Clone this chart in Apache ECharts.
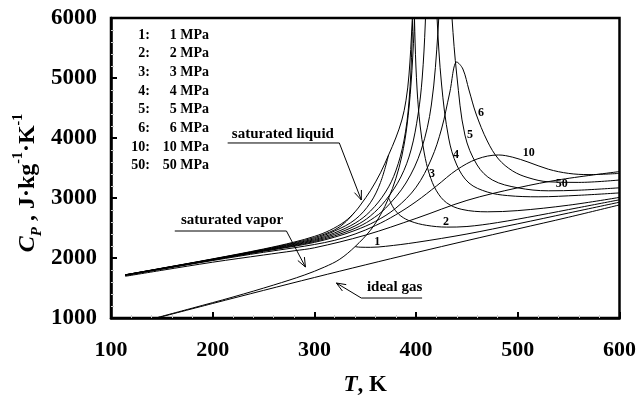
<!DOCTYPE html>
<html>
<head>
<meta charset="utf-8">
<script src="https://cdn.jsdelivr.net/npm/echarts@6/dist/echarts.min.js"></script>
<style>
  html, body { margin: 0; padding: 0; background: #fff; }
  #chart { width: 639px; height: 402px; }
</style>
</head>
<body>
<div id="chart"></div>
<script>
// Isobaric heat capacity of isobutane: temperatures (K) and Cp (J/(kg·K))
const satLiqT  = [114, 150, 200, 250, 280, 300, 315, 330, 340, 346, 355, 365, 373, 380, 386, 390, 393, 396, 398];
const satLiqCp = [1720, 1830, 1985, 2150, 2265, 2360, 2460, 2610, 2770, 2900, 3120, 3420, 3720, 4000, 4300, 4620, 5050, 5900, 6800];

const satVapT  = [145, 180, 220, 260, 290, 310, 325, 340, 355, 365, 373, 380, 386, 391, 395, 398, 400];
const satVapCp = [1005, 1165, 1350, 1550, 1715, 1850, 1980, 2190, 2460, 2720, 3000, 3320, 3700, 4200, 4900, 5800, 6800];

const idealT  = [145, 200, 250, 300, 350, 400, 450, 500, 550, 600];
const idealCp = [1000, 1242, 1460, 1675, 1885, 2090, 2290, 2485, 2680, 2885];

// 1 MPa: liquid up to saturation, then vapour
const p1LiqT  = [114, 150, 200, 250, 280, 300, 320, 330, 340];
const p1LiqCp = [1720, 1829, 1982, 2143, 2252, 2340, 2470, 2590, 2770];
const p1VapT  = [340, 345, 355, 370, 400, 450, 500, 550, 600];
const p1VapCp = [2190, 2180, 2178, 2195, 2260, 2400, 2570, 2750, 2930];

// 2 MPa
const p2LiqT  = [114, 150, 200, 250, 280, 300, 320, 340, 355, 365, 373];
const p2LiqCp = [1719, 1827, 1979, 2136, 2240, 2322, 2450, 2640, 2920, 3260, 3720];
const p2VapT  = [373, 378, 385, 395, 410, 430, 450, 480, 520, 560, 600];
const p2VapCp = [3000, 2830, 2700, 2610, 2545, 2515, 2525, 2590, 2710, 2840, 2970];

// 3 MPa
const p3LiqT  = [114, 150, 200, 250, 280, 300, 320, 340, 355, 370, 380, 388, 393, 396, 397.5];
const p3LiqCp = [1718, 1825, 1976, 2130, 2228, 2305, 2420, 2580, 2780, 3100, 3450, 3950, 4600, 5600, 6800];
const p3VapT  = [397.5, 399, 401, 404, 408, 413, 420, 430, 445, 470, 500, 550, 600];
const p3VapCp = [6800, 5600, 4800, 4200, 3750, 3400, 3120, 2920, 2810, 2770, 2790, 2880, 3010];

// Supercritical isobars
const p4T  = [114, 150, 200, 250, 280, 300, 320, 340, 355, 370, 385, 395, 402, 406, 409, 412, 414.5, 417, 420.6, 425, 432, 440, 452, 470, 490, 520, 560, 600];
const p4Cp = [1716, 1823, 1973, 2124, 2217, 2290, 2395, 2535, 2700, 2960, 3350, 3800, 4400, 5000, 5900, 7500, 9000, 7500, 6000, 4900, 4000, 3550, 3250, 3100, 3040, 3020, 3045, 3085];

const p5T  = [114, 150, 200, 250, 280, 300, 320, 340, 355, 370, 390, 405, 415, 421.6, 425, 428.5, 432, 435.3, 440, 448, 460, 475, 500, 530, 560, 600];
const p5Cp = [1714, 1821, 1970, 2118, 2206, 2275, 2370, 2495, 2630, 2830, 3250, 3800, 4550, 5800, 7000, 7600, 7000, 6000, 5050, 4050, 3550, 3300, 3170, 3120, 3130, 3170];

const p6T  = [114, 150, 200, 250, 280, 300, 320, 340, 360, 380, 400, 415, 425, 433, 440, 446, 452, 459, 470, 481, 495, 510, 530, 560, 600];
const p6Cp = [1712, 1819, 1967, 2112, 2195, 2260, 2348, 2460, 2610, 2830, 3180, 3650, 4150, 4750, 5267, 5150, 4800, 4400, 3950, 3650, 3450, 3340, 3270, 3260, 3300];

const p10T  = [114, 150, 200, 250, 280, 300, 320, 340, 360, 380, 400, 420, 440, 460, 481, 495, 510, 530, 550, 570, 600];
const p10Cp = [1708, 1813, 1958, 2095, 2170, 2225, 2295, 2400, 2540, 2720, 2940, 3200, 3470, 3650, 3717, 3680, 3600, 3480, 3410, 3390, 3410];

const p50T  = [114, 150, 200, 250, 280, 300, 350, 400, 450, 500, 543, 600];
const p50Cp = [1695, 1795, 1930, 2050, 2120, 2170, 2380, 2660, 2960, 3170, 3310, 3440];

// Axis ranges and ticks
const xMin = 100, xMax = 600, xStep = 100;
const yMin = 1000, yMax = 6000, yStep = 1000;

// Legend of isobar numbers
const legendKeys   = ['1:', '2:', '3:', '4:', '5:', '6:', '10:', '50:'];
const legendValues = ['1 MPa', '2 MPa', '3 MPa', '4 MPa', '5 MPa', '6 MPa', '10 MPa', '50 MPa'];

// Curve tags placed at (T, Cp)
const tagText = ['1', '2', '3', '4', '5', '6', '10', '50'];
const tagT    = [361.8, 429.4, 415.7, 439.2, 452.9, 463.7, 510.8, 543.1];
const tagCp   = [2267, 2600, 3400, 3717, 4050, 4417, 3750, 3233];

// Leader annotations: text anchor, polyline path in (T, Cp), arrow at last point
const notes = [
  { text: 'saturated liquid', at: [269, 4067], path: [[214.7, 3917], [324.5, 3917], [346.1, 2967]] },
  { text: 'saturated vapor',  at: [219, 2633], path: [[162.7, 2450], [272.5, 2450], [291.2, 1850]] },
  { text: 'ideal gas',        at: [378.9, 1517], path: [[405.9, 1333], [346.1, 1333], [321.6, 1583]] }
];

const SERIF = '"Liberation Serif", "Times New Roman", serif';

function zip(xs, ys) { return xs.map((x, i) => [x, ys[i]]); }

const curves = [
  [satLiqT, satLiqCp], [satVapT, satVapCp], [idealT, idealCp],
  [p1LiqT, p1LiqCp], [p1VapT, p1VapCp],
  [p2LiqT, p2LiqCp], [p2VapT, p2VapCp],
  [p3LiqT, p3LiqCp], [p3VapT, p3VapCp],
  [p4T, p4Cp], [p5T, p5Cp], [p6T, p6Cp], [p10T, p10Cp], [p50T, p50Cp]
];

const chart = echarts.init(document.getElementById('chart'), null, { renderer: 'canvas' });

const axisLabelStyle = { color: '#000', fontFamily: SERIF, fontWeight: 'bold', fontSize: 22, formatter: v => String(v) };

chart.setOption({
  animation: false,
  backgroundColor: '#fff',
  grid: { left: 111, right: 18, top: 18, bottom: 84, show: true, borderColor: '#000', borderWidth: 2.5, backgroundColor: 'transparent' },
  xAxis: {
    type: 'value', min: xMin, max: xMax, interval: xStep,
    axisLine: { lineStyle: { color: '#000', width: 2.5 } },
    axisTick: { inside: true, length: 6, lineStyle: { color: '#000', width: 2 } },
    minorTick: { show: true, splitNumber: 5, length: 3, lineStyle: { color: '#ccc', width: 1 } },
    splitLine: { show: false },
    axisLabel: Object.assign({ margin: 21 }, axisLabelStyle),
    name: '{i|T}{n|, K}',
    nameLocation: 'middle', nameGap: 56,
    nameTextStyle: {
      rich: {
        i: { fontFamily: SERIF, fontWeight: 'bold', fontStyle: 'italic', fontSize: 23, color: '#000' },
        n: { fontFamily: SERIF, fontWeight: 'bold', fontSize: 23, color: '#000' }
      }
    }
  },
  yAxis: {
    type: 'value', min: yMin, max: yMax, interval: yStep,
    axisLine: { lineStyle: { color: '#000', width: 2.5 } },
    axisTick: { inside: true, length: 6, lineStyle: { color: '#000', width: 2 } },
    minorTick: { show: true, splitNumber: 5, length: 3, lineStyle: { color: '#ccc', width: 1 } },
    splitLine: { show: false },
    axisLabel: Object.assign({ margin: 14 }, axisLabelStyle, { fontSize: 23 })
  },
  series: curves.map(c => ({
    type: 'line',
    data: zip(c[0], c[1]),
    showSymbol: false,
    symbol: 'none',
    smooth: 0.35,
    clip: true,
    lineStyle: { color: '#000', width: 1 },
    silent: true
  }))
});

// Overlay texts and leader arrows, positioned through the chart's own coordinate system
function px(p) { return chart.convertToPixel({ gridIndex: 0 }, p); }

const elements = [];

// Vertical axis title with subscript and superscripts
const titleRich = {
  i:   { fontFamily: SERIF, fontWeight: 'bold', fontStyle: 'italic', fontSize: 24, fill: '#000', lineHeight: 34, verticalAlign: 'middle' },
  n:   { fontFamily: SERIF, fontWeight: 'bold', fontSize: 24, fill: '#000', lineHeight: 34, verticalAlign: 'middle' },
  sub: { fontFamily: SERIF, fontWeight: 'bold', fontStyle: 'italic', fontSize: 15, fill: '#000', lineHeight: 32, verticalAlign: 'bottom' },
  sup: { fontFamily: SERIF, fontWeight: 'bold', fontSize: 14, fill: '#000', lineHeight: 32, verticalAlign: 'top' }
};
elements.push({
  type: 'text', silent: true, x: 28, y: 183, rotation: Math.PI / 2,
  style: { text: '{i|C}{sub|P}{n| , J·kg}{sup|-1}{n|·K}{sup|-1}', rich: titleRich, align: 'center', verticalAlign: 'middle', textAlign: 'center', textVerticalAlign: 'middle' }
});

// Legend block (two right-aligned columns)
legendKeys.forEach((k, i) => {
  const y = 35 + i * 18.67;
  elements.push({ type: 'text', silent: true, style: { text: k, x: 150, y: y, fill: '#000', font: 'bold 14px ' + SERIF, textAlign: 'right', textVerticalAlign: 'middle', align: 'right', verticalAlign: 'middle' } });
  elements.push({ type: 'text', silent: true, style: { text: legendValues[i], x: 209, y: y, fill: '#000', font: 'bold 14px ' + SERIF, textAlign: 'right', textVerticalAlign: 'middle', align: 'right', verticalAlign: 'middle' } });
});

// Curve tags
tagText.forEach((t, i) => {
  const p = px([tagT[i], tagCp[i]]);
  elements.push({ type: 'text', silent: true, style: { text: t, x: p[0], y: p[1], fill: '#000', font: 'bold 12px ' + SERIF, textAlign: 'center', textVerticalAlign: 'middle', align: 'center', verticalAlign: 'middle' } });
});

// Annotation texts with leader lines and open arrowheads
notes.forEach(n => {
  const a = px(n.at);
  elements.push({ type: 'text', silent: true, style: { text: n.text, x: a[0], y: a[1], fill: '#000', font: 'bold 15px ' + SERIF, textAlign: 'center', textVerticalAlign: 'middle', align: 'center', verticalAlign: 'middle' } });
  const pts = n.path.map(px);
  elements.push({ type: 'polyline', silent: true, shape: { points: pts }, style: { stroke: '#000', lineWidth: 1, fill: null } });
  const tip = pts[pts.length - 1], prev = pts[pts.length - 2];
  const ang = Math.atan2(tip[1] - prev[1], tip[0] - prev[0]);
  const L = 10, spread = 0.38;
  const w1 = [tip[0] - L * Math.cos(ang - spread), tip[1] - L * Math.sin(ang - spread)];
  const w2 = [tip[0] - L * Math.cos(ang + spread), tip[1] - L * Math.sin(ang + spread)];
  elements.push({ type: 'polyline', silent: true, shape: { points: [w1, tip, w2] }, style: { stroke: '#000', lineWidth: 1, fill: null } });
});

chart.setOption({ graphic: { elements: elements } });
</script>
</body>
</html>
